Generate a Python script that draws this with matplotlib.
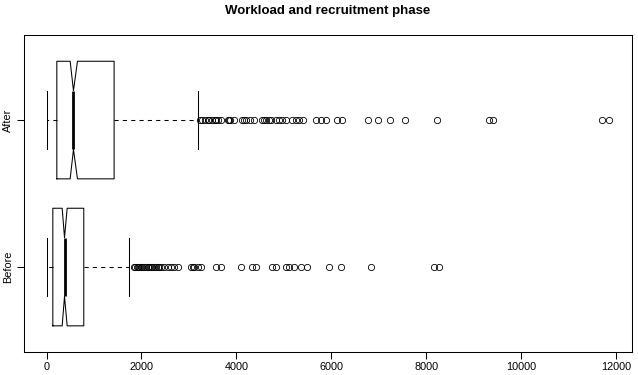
import matplotlib
matplotlib.use("Agg")
import matplotlib.pyplot as plt

plt.rcParams['font.family'] = ['Liberation Sans', 'DejaVu Sans']

# groups, bottom to top
groups = ["Before", "After"]

# five-number summaries and notch limits
q1 = [133, 217]
med = [379, 568]
q3 = [785, 1424]
whislo = [0, 0]
whishi = [1739, 3190]
cilo = [330, 498]
cihi = [435, 652]

before_out = [1851, 1870, 1900, 1920, 1950, 1992, 2020, 2061, 2090, 2130, 2160,
              2202, 2230, 2271, 2300, 2341, 2380, 2412, 2482, 2551, 2622, 2692,
              2761, 3043, 3080, 3113, 3182, 3253, 3569, 3674, 4095, 4338, 4410,
              4759, 4831, 5041, 5110, 5216, 5356, 5495, 5952, 6198, 6829, 8160,
              8265]
after_out = [3232, 3281, 3344, 3400, 3428, 3491, 3540, 3575, 3620, 3680, 3827,
             3850, 3870, 3954, 4122, 4160, 4206, 4290, 4374, 4543, 4580, 4627,
             4680, 4732, 4837, 4900, 4963, 5047, 5173, 5258, 5321, 5405, 5678,
             5783, 5889, 6120, 6225, 6772, 6982, 7234, 7550, 8223, 9317, 9400,
             11693, 11861]
fliers = [before_out, after_out]

xticks = [0, 2000, 4000, 6000, 8000, 10000, 12000]

stats = []
for i in range(len(groups)):
    stats.append(dict(label=groups[i], q1=q1[i], med=med[i], q3=q3[i],
                      whislo=whislo[i], whishi=whishi[i],
                      cilo=cilo[i], cihi=cihi[i], fliers=fliers[i]))

fig = plt.figure(figsize=(6.38, 3.75), dpi=100)
ax = fig.add_axes([24/638, 1 - 352.3/375, 608/638, 317.5/375])

ax.bxp(stats, positions=[1, 2], widths=0.8, capwidths=0.4,
       orientation='horizontal', shownotches=True,
       boxprops=dict(color='black', lw=0.75),
       medianprops=dict(color='black', lw=2, solid_capstyle='butt'),
       whiskerprops=dict(color='black', lw=0.75, linestyle=(0, (4, 4))),
       capprops=dict(color='black', lw=0.75),
       flierprops=dict(marker='o', markerfacecolor='none',
                       markeredgecolor='black', markersize=4.5,
                       markeredgewidth=0.6))

lo, hi = 0, max(max(f) for f in fliers)
ext = 0.04 * (hi - lo)
ax.set_xlim(lo - ext, hi + ext)
ax.set_ylim(0.42, 2.58)

ax.set_xticks(xticks)
ax.set_xticklabels([str(t) for t in xticks])
ax.set_yticks([1, 2])
ax.set_yticklabels(groups, rotation=90, va='center')
ax.tick_params(direction='out', length=5, width=0.75, labelsize=7.8, pad=2)
ax.tick_params(axis='y', pad=3)
for s in ax.spines.values():
    s.set_linewidth(0.75)

ax.set_title("Workload and recruitment phase", fontsize=9.5,
             fontweight='bold', pad=15)

fig.savefig("out.png", dpi=100)
